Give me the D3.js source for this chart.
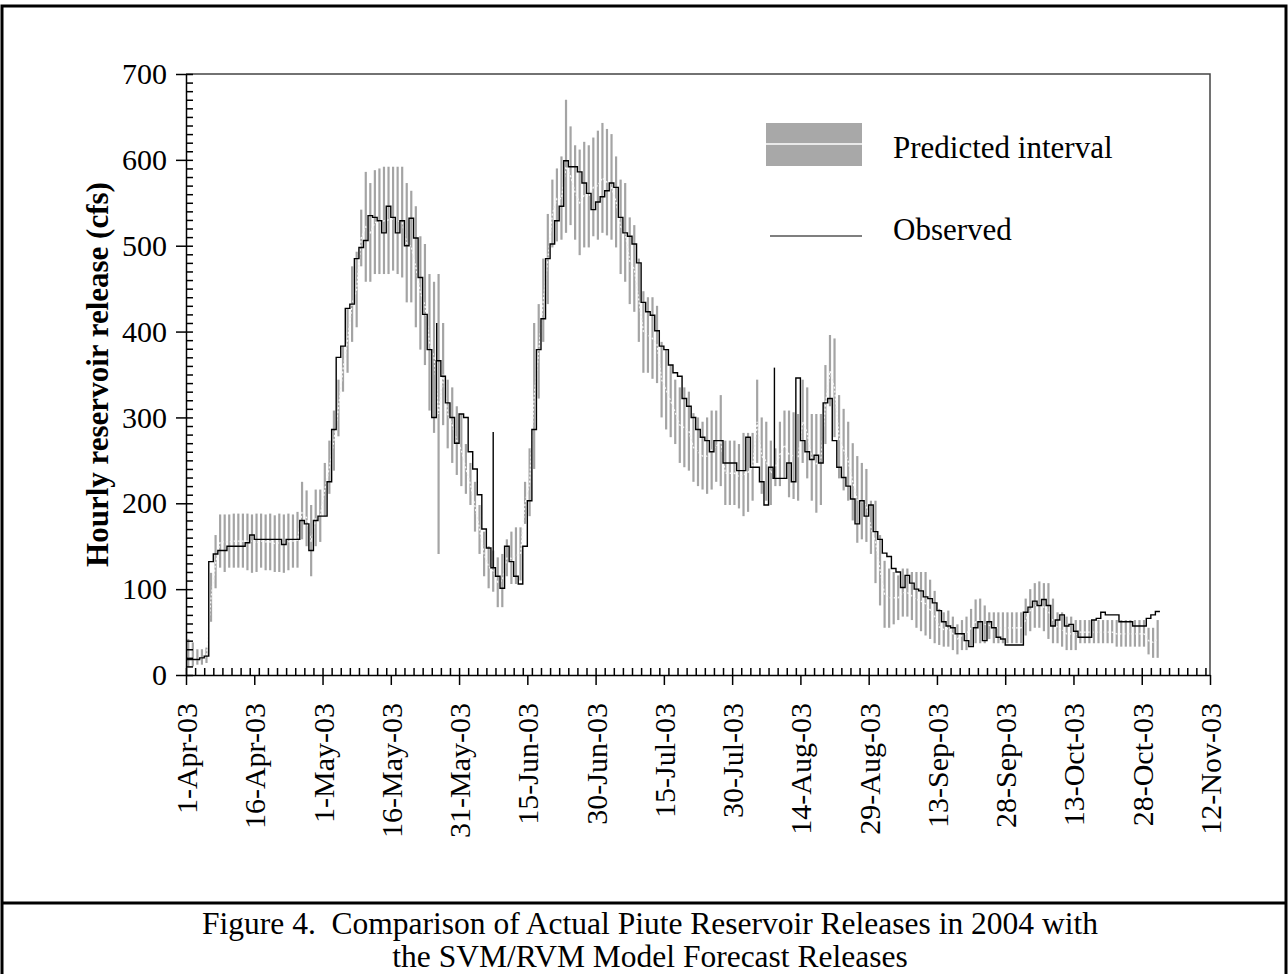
<!DOCTYPE html>
<html>
<head>
<meta charset="utf-8">
<script src="https://cdn.jsdelivr.net/npm/d3@7"></script>
<style>
  body { margin: 0; background: #fff; }
  svg { display: block; }
  text { font-family: "Liberation Serif", "Times New Roman", serif; fill: #000; }
</style>
</head>
<body>
<script>
// daily series, index 0 = 1-Apr-03
const startDay = "2003-04-01";

const observed = [
  18, 18, 18, 20, 22, 132, 141, 145, 145, 150,
  150, 150, 150, 154, 163, 158, 158, 158, 158, 158,
  158, 152, 158, 158, 158, 180, 176, 145, 180, 185,
  185, 225, 286, 370, 383, 427, 432, 485, 498, 506,
  535, 533, 529, 515, 546, 533, 515, 529, 500, 532,
  509, 463, 420, 379, 300, 366, 348, 317, 300, 270,
  304, 300, 260, 240, 210, 170, 148, 125, 115, 101,
  150, 132, 115, 106, 150, 203, 286, 379, 415, 485,
  502, 529, 546, 599, 592, 592, 586, 573, 561, 542,
  551, 557, 564, 573, 568, 533, 515, 511, 502, 480,
  434, 423, 419, 401, 383, 379, 361, 352, 348, 322,
  313, 300, 286, 277, 273, 260, 273, 273, 247, 247,
  247, 238, 238, 277, 242, 242, 225, 198, 242, 229,
  229, 229, 247, 225, 346, 273, 260, 251, 256, 247,
  317, 322, 273, 242, 230, 220, 205, 176, 203, 185,
  198, 167, 158, 142, 138, 124, 120, 102, 116, 107,
  100, 98, 91, 89, 84, 75, 62, 57, 55, 48,
  48, 40, 33, 55, 62, 40, 62, 55, 44, 42,
  35, 35, 35, 35, 73, 79, 86, 81, 88, 81,
  57, 64, 70, 57, 59, 51, 44, 44, 44, 64,
  66, 73, 70, 70, 70, 62, 62, 62, 57, 57,
  57, 66, 70, 74
];

const predicted = [
  20, 18, 18, 20, 22, 90, 130, 155, 155, 155,
  156, 156, 156, 156, 156, 154, 156, 155, 155, 153,
  154, 153, 155, 156, 157, 190, 183, 155, 183, 185,
  216, 242, 273, 311, 356, 390, 432, 449, 509, 522,
  515, 527, 528, 529, 530, 531, 529, 527, 503, 499,
  475, 445, 431, 388, 370, 304, 350, 304, 291, 273,
  262, 240, 222, 196, 170, 141, 126, 121, 108, 110,
  136, 136, 139, 141, 200, 224, 325, 377, 436, 484,
  537, 555, 555, 592, 581, 562, 550, 559, 557, 568,
  570, 579, 574, 568, 551, 522, 515, 482, 473, 436,
  400, 396, 392, 385, 344, 332, 319, 306, 291, 288,
  284, 265, 260, 255, 255, 262, 266, 273, 235, 235,
  235, 231, 233, 236, 242, 295, 255, 249, 235, 242,
  257, 268, 257, 255, 253, 295, 282, 253, 246, 251,
  315, 354, 334, 277, 262, 249, 225, 204, 202, 197,
  172, 155, 122, 94, 90, 90, 90, 96, 96, 92,
  88, 86, 83, 76, 68, 56, 53, 54, 48, 42,
  46, 48, 55, 62, 63, 59, 58, 55, 55, 55,
  55, 55, 55, 55, 64, 75, 81, 82, 79, 74,
  63, 55, 53, 48, 48, 46, 50, 50, 50, 50,
  50, 50, 50, 50, 48, 48, 48, 48, 48, 48,
  48, 40, 38, 42
];

const lowerBound = [
  10, 10, 12, 12, 14, 62, 101, 125, 120, 125,
  125, 125, 125, 122, 119, 120, 125, 122, 122, 120,
  120, 119, 122, 125, 125, 158, 150, 115, 150, 155,
  185, 211, 238, 278, 330, 352, 388, 405, 476, 458,
  458, 467, 467, 467, 467, 471, 467, 463, 434, 434,
  405, 379, 361, 308, 282, 141, 291, 264, 247, 233,
  220, 211, 198, 167, 141, 115, 101, 97, 79, 79,
  115, 106, 106, 110, 176, 185, 240, 322, 388, 432,
  498, 505, 507, 515, 524, 507, 489, 498, 498, 511,
  507, 515, 512, 507, 498, 467, 458, 432, 423, 388,
  352, 352, 345, 340, 300, 286, 277, 269, 247, 242,
  238, 225, 220, 216, 211, 216, 225, 220, 198, 198,
  198, 194, 185, 190, 203, 247, 211, 203, 198, 220,
  220, 229, 207, 205, 203, 247, 229, 203, 189, 198,
  269, 313, 277, 229, 215, 203, 180, 154, 158, 155,
  141, 107, 81, 55, 55, 59, 64, 68, 68, 64,
  55, 51, 46, 42, 37, 35, 33, 33, 29, 24,
  29, 29, 33, 37, 37, 37, 42, 37, 37, 37,
  37, 37, 37, 37, 46, 51, 55, 55, 51, 42,
  37, 37, 33, 29, 29, 29, 37, 37, 37, 37,
  37, 37, 37, 37, 33, 33, 33, 33, 33, 33,
  33, 24, 20, 20
];

const upperBound = [
  42, 38, 30, 30, 32, 119, 163, 187, 187, 187,
  188, 188, 188, 188, 187, 188, 188, 187, 188, 186,
  188, 187, 188, 187, 190, 225, 215, 198, 216, 216,
  247, 273, 308, 344, 383, 427, 476, 493, 542, 586,
  573, 588, 590, 592, 592, 592, 592, 592, 573, 564,
  546, 511, 502, 467, 458, 467, 410, 344, 335, 313,
  304, 269, 247, 225, 198, 167, 150, 145, 137, 141,
  158, 167, 172, 172, 225, 264, 410, 432, 485, 537,
  577, 590, 604, 670, 639, 617, 612, 621, 617, 626,
  634, 643, 636, 630, 604, 577, 573, 533, 524, 485,
  447, 440, 440, 430, 388, 379, 361, 344, 335, 335,
  330, 305, 300, 295, 300, 308, 308, 326, 273, 273,
  273, 269, 282, 282, 282, 344, 300, 295, 273, 264,
  295, 308, 308, 306, 304, 344, 335, 304, 304, 304,
  361, 396, 392, 326, 310, 295, 270, 255, 247, 240,
  203, 203, 163, 133, 124, 120, 116, 124, 124, 120,
  120, 120, 120, 111, 98, 77, 73, 75, 68, 59,
  64, 68, 77, 88, 89, 81, 73, 73, 73, 73,
  73, 73, 73, 73, 89, 100, 107, 109, 107, 107,
  89, 73, 73, 68, 68, 64, 64, 64, 64, 64,
  64, 64, 64, 64, 64, 64, 64, 64, 64, 64,
  64, 55, 55, 64
];

// short hourly peaks in the observed record
const spikeTimes = ["2003-05-26T02:00", "2003-06-07T12:00", "2003-08-08T07:00"];
const spikeValues = [410, 283, 358];

const yTicks = [0, 100, 200, 300, 400, 500, 600, 700];
const xStart = "2003-04-01";
const xEnd = "2003-11-12";

const captionLines = [
  "Figure 4.  Comparison of Actual Piute Reservoir Releases in 2004 with",
  "the SVM/RVM Model Forecast Releases"
];

const width = 1288, height = 974;
const plotLeft = 186, plotRight = 1210, plotTop = 74, plotBottom = 675;

const parseDay = d3.utcParse("%Y-%m-%d");
const parseHour = d3.utcParse("%Y-%m-%dT%H:%M");
const day0 = parseDay(startDay);
const dayDate = (i) => d3.utcDay.offset(day0, i);
const midDay = (i) => d3.utcHour.offset(day0, i * 24 + 12);

const x = d3.scaleUtc()
  .domain([parseDay(xStart), parseDay(xEnd)])
  .range([plotLeft, plotRight]);

const y = d3.scaleLinear()
  .domain([0, 700])
  .range([plotBottom, plotTop]);

const svg = d3.select("body").append("svg")
  .attr("width", width)
  .attr("height", height);

// page frame and caption separator
svg.append("rect")
  .attr("x", 2).attr("y", 6)
  .attr("width", 1284).attr("height", 990)
  .attr("fill", "none").attr("stroke", "#000").attr("stroke-width", 3);

svg.append("line")
  .attr("x1", 2).attr("x2", 1286)
  .attr("y1", 903).attr("y2", 903)
  .attr("stroke", "#000").attr("stroke-width", 3);

// predicted interval bars
const bars = svg.append("g");
bars.selectAll("line")
  .data(lowerBound)
  .join("line")
  .attr("x1", (d, i) => x(midDay(i)))
  .attr("x2", (d, i) => x(midDay(i)))
  .attr("y1", (d) => y(d))
  .attr("y2", (d, i) => y(upperBound[i]))
  .attr("stroke", "#a4a4a4")
  .attr("stroke-width", 2.2);

// predicted value (light dotted trace inside the bars)
svg.append("path")
  .datum(predicted)
  .attr("fill", "none")
  .attr("stroke", "#f4f4f4")
  .attr("stroke-width", 1.3)
  .attr("stroke-dasharray", "2,2")
  .attr("d", d3.line()
    .x((d, i) => x(midDay(i)))
    .y((d) => y(d)));

// observed hourly release, drawn as steps
const obsPoints = observed.map((v, i) => [dayDate(i), v]);
obsPoints.push([dayDate(observed.length), observed[observed.length - 1]]);

svg.append("path")
  .datum(obsPoints)
  .attr("fill", "none")
  .attr("stroke", "#000")
  .attr("stroke-width", 1.4)
  .attr("d", d3.line()
    .curve(d3.curveStepAfter)
    .x((d) => x(d[0]))
    .y((d) => y(d[1])));

svg.append("g").selectAll("line")
  .data(spikeTimes)
  .join("line")
  .attr("x1", (d) => x(parseHour(d)))
  .attr("x2", (d) => x(parseHour(d)))
  .attr("y1", (d) => {
    let i = d3.utcDay.count(day0, parseHour(d));
    return y(observed[i]);
  })
  .attr("y2", (d, i) => y(spikeValues[i]))
  .attr("stroke", "#000")
  .attr("stroke-width", 1.4);

// plot frame (top and right)
svg.append("path")
  .attr("d", `M${plotLeft},${plotTop}H${plotRight}V${plotBottom}`)
  .attr("fill", "none")
  .attr("stroke", "#444")
  .attr("stroke-width", 1.5);

// y axis
const yMinor = d3.range(0, 701, 10);
svg.append("g")
  .attr("transform", `translate(${plotLeft},0)`)
  .call(d3.axisLeft(y).tickValues(yMinor).tickSize(-7).tickSizeOuter(0).tickFormat(""))
  .call((g) => g.select(".domain").remove());

const yAxis = svg.append("g")
  .attr("transform", `translate(${plotLeft},0)`)
  .call(d3.axisLeft(y).tickValues(yTicks).tickSize(10).tickSizeOuter(0).tickPadding(9));

yAxis.selectAll("text")
  .style("font-size", "30px")
  .style("font-family", "'Liberation Serif', 'Times New Roman', serif");

// x axis
const majorDates = d3.utcDay.range(parseDay(xStart), d3.utcDay.offset(parseDay(xEnd), 1), 15);
const minorDates = d3.utcDay.range(parseDay(xStart), d3.utcDay.offset(parseDay(xEnd), 1), 2);

svg.append("g")
  .attr("transform", `translate(0,${plotBottom})`)
  .call(d3.axisBottom(x).tickValues(minorDates).tickSize(-7).tickSizeOuter(0).tickFormat(""))
  .call((g) => g.select(".domain").remove());

const xAxis = svg.append("g")
  .attr("transform", `translate(0,${plotBottom})`)
  .call(d3.axisBottom(x).tickValues(majorDates).tickSize(10).tickSizeOuter(0)
    .tickFormat(d3.utcFormat("%-d-%b-%y")));

xAxis.selectAll("text")
  .attr("transform", "rotate(-90)")
  .attr("x", -28)
  .attr("y", 0)
  .attr("dy", "0.35em")
  .attr("text-anchor", "end")
  .style("font-size", "30px")
  .style("font-family", "'Liberation Serif', 'Times New Roman', serif");

svg.selectAll(".domain, .tick line")
  .attr("stroke", "#000")
  .attr("stroke-width", 1.5);

// y title
svg.append("text")
  .attr("transform", `translate(97,${(plotTop + plotBottom) / 2}) rotate(-90)`)
  .attr("text-anchor", "middle")
  .attr("dy", "0.35em")
  .style("font-size", "31px")
  .style("font-weight", "bold")
  .text("Hourly reservoir release (cfs)");

// legend
const legend = svg.append("g");
legend.append("rect")
  .attr("x", 766).attr("y", 123)
  .attr("width", 96).attr("height", 43)
  .attr("fill", "#a8a8a8");
legend.append("line")
  .attr("x1", 766).attr("x2", 862)
  .attr("y1", 144).attr("y2", 144)
  .attr("stroke", "#fff").attr("stroke-width", 1.5);
legend.append("text")
  .attr("x", 893).attr("y", 158)
  .style("font-size", "31px")
  .text("Predicted interval");

legend.append("line")
  .attr("x1", 770).attr("x2", 862)
  .attr("y1", 236).attr("y2", 236)
  .attr("stroke", "#555").attr("stroke-width", 1.5);
legend.append("text")
  .attr("x", 893).attr("y", 240)
  .style("font-size", "31px")
  .text("Observed");

// caption
svg.append("g").selectAll("text")
  .data(captionLines)
  .join("text")
  .attr("x", 650)
  .attr("y", (d, i) => 934 + i * 33)
  .attr("text-anchor", "middle")
  .style("font-size", "31.5px")
  .style("white-space", "pre")
  .text((d) => d);
</script>
</body>
</html>
